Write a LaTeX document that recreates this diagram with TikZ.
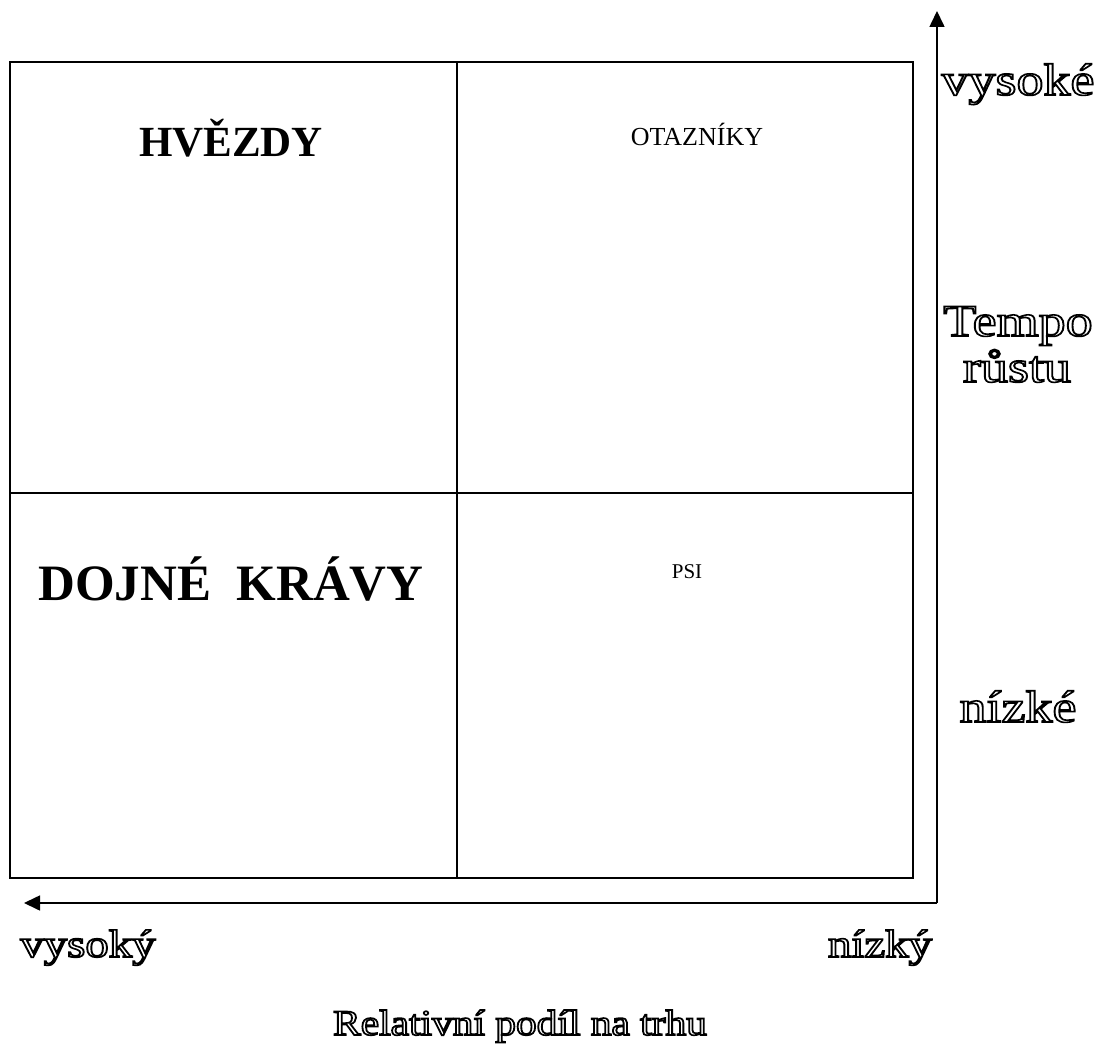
\documentclass[tikz,border=0pt]{standalone}
\usepackage{fontspec}
\setmainfont{Liberation Serif}
\usetikzlibrary{arrows.meta}
\newcommand\olt[3]{\scalebox{#1}[1]{\fontsize{#2}{#2}\selectfont\special{pdf:literal direct 1 Tr 1.6 w}#3\special{pdf:literal direct 0 Tr}}}
\begin{document}
\begin{tikzpicture}[x=1pt,y=-1pt,
  cell/.style={draw,line width=1.6pt,minimum width=#1,inner sep=0pt,outer sep=0pt},
  axis/.style={line width=1.6pt,-{Triangle[length=16pt,width=15pt]}},
  lbl/.style={inner sep=0pt,anchor=base}]
\useasboundingbox (0,0) rectangle (1104,1046);
% quadrants
\node[cell=447pt,minimum height=431pt] (hv) at (233.5,277.5) {};
\node[cell=456pt,minimum height=431pt] (ot) at (685,277.5) {};
\node[cell=447pt,minimum height=385pt] (dk) at (233.5,685.5) {};
\node[cell=456pt,minimum height=385pt] (ps) at (685,685.5) {};
% quadrant labels
\node[lbl] (thv) at (231,157) {\fontsize{43}{43}\selectfont\bfseries HVĚZDY};
\node[lbl] (tot) at (697,146) {\fontsize{26}{26}\selectfont OTAZNÍKY};
\node[lbl] (tdk) at (231,600) {\fontsize{51}{51}\selectfont\bfseries DOJNÉ\ \ KRÁVY};
\node[lbl] (tps) at (687,578) {\fontsize{21}{21}\selectfont PSI};
% axes
\coordinate (o) at (937,903);
\coordinate (top) at (937,11);
\coordinate (left) at (24,903);
\draw[axis] (o) -- (top);
\draw[axis] (o) -- (left);
% axis labels
\node[lbl] (vys) at (1018,95) {\olt{1.2}{45}{vysoké}};
\node[lbl] (tem) at (1018,336) {\olt{1.2}{45}{Tempo}};
\node[lbl] (rus) at (1017,382) {\olt{1.2}{45}{růstu}};
\node[lbl] (niz) at (1018,722) {\olt{1.2}{45}{nízké}};
\node[lbl] (vyy) at (88,957) {\olt{1.2}{39}{vysoký}};
\node[lbl] (nky) at (880,957) {\olt{1.2}{39}{nízký}};
\node[lbl] (rel) at (520,1035) {\olt{1.15}{36}{Relativní podíl na trhu}};
\end{tikzpicture}
\end{document}
